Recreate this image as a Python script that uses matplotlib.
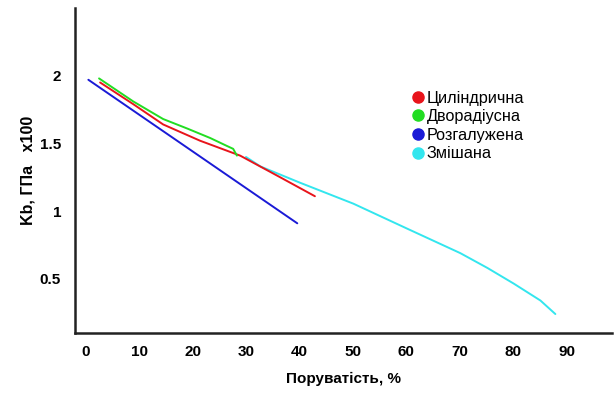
import matplotlib
matplotlib.use("Agg")
import matplotlib.pyplot as plt
from matplotlib.lines import Line2D

plt.rcParams['font.family'] = ['Liberation Sans', 'DejaVu Sans']

# Data (porosity %, Kb GPa x100)
cyl_x = [2.7, 8.9, 14.5, 21.4, 28.9, 36.4, 42.9]
cyl_y = [1.95, 1.79, 1.64, 1.52, 1.41, 1.25, 1.11]

dvr_x = [2.5, 8.9, 14.5, 19.0, 23.3, 26.5, 27.6, 28.3]
dvr_y = [1.98, 1.81, 1.68, 1.61, 1.54, 1.48, 1.46, 1.41]

roz_x = [0.5, 39.6]
roz_y = [1.97, 0.91]

mix_x = [30.0, 32.7, 40.1, 50.1, 60.2, 70.1, 75.2, 80.1, 85.1, 87.9]
mix_y = [1.40, 1.33, 1.21, 1.055, 0.87, 0.69, 0.58, 0.465, 0.34, 0.24]

labels = ["Циліндрична", "Дворадіусна", "Розгалужена", "Змішана"]
colors = ["#e8141b", "#22dd22", "#1a1ad6", "#33e6ee"]

xticks = [0, 10, 20, 30, 40, 50, 60, 70, 80, 90]
yticks = [0.5, 1, 1.5, 2]
ytick_labels = ["0.5", "1", "1.5", "2"]

fig = plt.figure(figsize=(6.16, 3.94), dpi=100)
ax = fig.add_axes([75/616, 1-333/394, (612-75)/616, (333-8)/394])

series = [(mix_x, mix_y), (cyl_x, cyl_y), (dvr_x, dvr_y), (roz_x, roz_y)]
order = [3, 0, 1, 2]
for (xs, ys), idx in zip(series, order):
    ax.plot(xs, ys, color=colors[idx], lw=1.4, solid_capstyle='round')

ax.set_xlim(-2, 98.5)
ax.set_ylim(0.1, 2.5)
ax.set_xticks(xticks)
ax.set_xticklabels([str(t) for t in xticks], fontweight='bold', fontsize=11)
ax.set_yticks(yticks)
ax.set_yticklabels(ytick_labels, fontweight='bold', fontsize=11)
ax.tick_params(axis='both', length=0)
ax.tick_params(axis='x', pad=9)
ax.tick_params(axis='y', pad=10)

for s in ['top', 'right']:
    ax.spines[s].set_visible(False)
for s in ['left', 'bottom']:
    ax.spines[s].set_linewidth(1.8)
    ax.spines[s].set_color('#222222')

ax.set_xlabel("Поруватість, %", fontweight='bold', fontsize=11, labelpad=9)
ax.set_ylabel("Kb, ГПа   x100", fontweight='bold', fontsize=11.5, labelpad=3)

handles = [Line2D([], [], marker='o', ls='none', color=c, markersize=8) for c in colors]
leg = ax.legend(handles, labels, loc='upper left', bbox_to_anchor=((403-75)/537, 1-(84-8)/325),
                frameon=False, fontsize=11.7, handletextpad=0.05, labelspacing=0.22,
                borderaxespad=0, handlelength=1.0)

fig.savefig("out.png", dpi=100)
